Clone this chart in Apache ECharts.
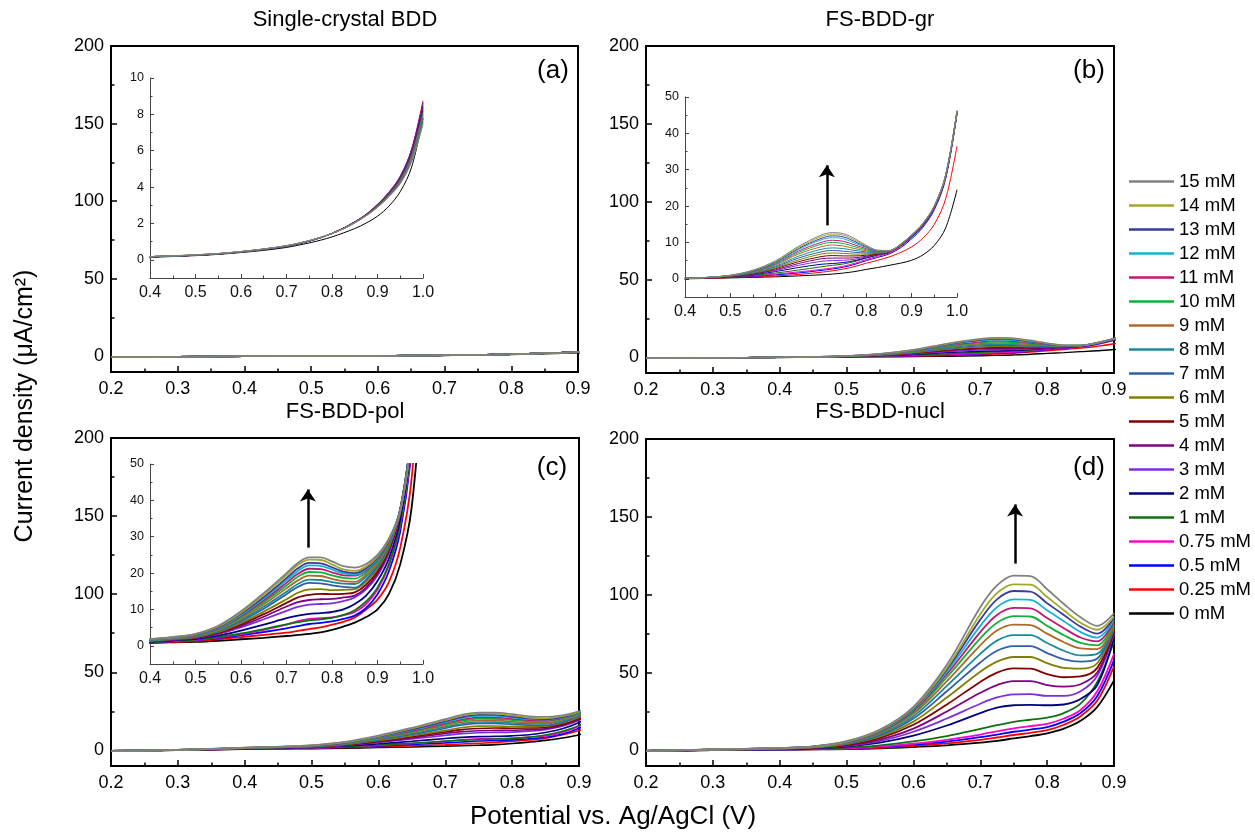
<!DOCTYPE html>
<html><head><meta charset="utf-8">
<script src="https://cdn.jsdelivr.net/npm/echarts@6/dist/echarts.min.js"></script>
<style>html,body{margin:0;padding:0;background:#fff}#c{width:1255px;height:832px}</style>
</head><body><div id="c"></div>
<script>
// ---------------- data ----------------
const potential = [0.2,0.3,0.4,0.45,0.5,0.55,0.6,0.65,0.7,0.725,0.75,0.775,0.8,0.825,0.85,0.875,0.9,0.925,0.95,0.975,1.0];
const potentialD = [0.2,0.3,0.4,0.45,0.5,0.55,0.6,0.65,0.7,0.725,0.75,0.775,0.8,0.825,0.85,0.875,0.9];
const concLabels = ['0 mM','0.25 mM','0.5 mM','0.75 mM','1 mM','2 mM','3 mM','4 mM','5 mM','6 mM','7 mM','8 mM','9 mM','10 mM','11 mM','12 mM','13 mM','14 mM','15 mM'];
const lineColors = ['#000000','#FF0000','#0000FF','#FF00CC','#107010','#000080','#7B2FE0','#800080','#800000','#7F7F00','#2F5FA8','#1A8A9A','#B0682A','#12B03A','#C0186E','#18B0DA','#3A3A9C','#A0A828','#808080'];
const panelTitles = ['Single-crystal BDD','FS-BDD-gr','FS-BDD-pol','FS-BDD-nucl'];
const panelLetters = ['(a)','(b)','(c)','(d)'];
const yMainTicks = [0,50,100,150,200];
const yMainMinor = [25,75,125,175];
const yInsetATicks = [0,2,4,6,8,10];
const yInsetAMinor = [1,3,5,7,9];
const yInsetTicks = [0,10,20,30,40,50];
const yInsetMinor = [5,15,25,35,45];
const arrowB = [0.713,14.7,31.2];
const arrowC = [0.747,27,43];
const arrowD = [0.752,120,158];

// (a) Single-crystal BDD, one row per concentration (0 mM ... 15 mM), x = potential
const currentA = [
 [-0.4,-0.2,0.12,0.18,0.23,0.30,0.40,0.52,0.68,0.80,0.93,1.08,1.26,1.48,1.72,2.02,2.40,2.95,3.75,5.10,7.80],
 [-0.4,-0.2,0.15,0.20,0.25,0.32,0.43,0.57,0.75,0.88,1.03,1.22,1.46,1.75,2.09,2.50,3.05,3.72,4.60,6.10,8.75],
 [-0.4,-0.2,0.15,0.20,0.25,0.32,0.43,0.57,0.75,0.88,1.03,1.22,1.46,1.75,2.09,2.50,3.04,3.70,4.58,6.05,8.65],
 [-0.4,-0.2,0.15,0.20,0.25,0.32,0.43,0.57,0.75,0.88,1.03,1.22,1.46,1.74,2.08,2.49,3.03,3.69,4.56,6.00,8.58],
 [-0.4,-0.2,0.15,0.20,0.25,0.32,0.43,0.57,0.75,0.88,1.03,1.22,1.45,1.74,2.08,2.49,3.02,3.68,4.54,5.96,8.50],
 [-0.4,-0.2,0.15,0.20,0.25,0.32,0.43,0.57,0.75,0.88,1.03,1.22,1.45,1.74,2.08,2.48,3.01,3.66,4.51,5.92,8.42],
 [-0.4,-0.2,0.15,0.20,0.25,0.32,0.43,0.57,0.75,0.88,1.03,1.22,1.45,1.73,2.07,2.48,3.00,3.65,4.49,5.88,8.35],
 [-0.4,-0.2,0.15,0.20,0.25,0.32,0.43,0.57,0.75,0.88,1.03,1.22,1.45,1.73,2.07,2.47,2.99,3.63,4.46,5.84,8.27],
 [-0.4,-0.2,0.15,0.20,0.26,0.33,0.44,0.58,0.76,0.89,1.04,1.23,1.45,1.73,2.07,2.47,2.98,3.62,4.44,5.80,8.20],
 [-0.4,-0.2,0.15,0.20,0.26,0.33,0.44,0.58,0.76,0.89,1.04,1.23,1.45,1.73,2.06,2.46,2.97,3.60,4.41,5.76,8.12],
 [-0.4,-0.2,0.15,0.20,0.26,0.33,0.44,0.58,0.76,0.89,1.04,1.23,1.45,1.72,2.06,2.46,2.96,3.59,4.39,5.72,8.05],
 [-0.4,-0.2,0.16,0.21,0.26,0.33,0.44,0.58,0.76,0.89,1.04,1.23,1.45,1.72,2.06,2.45,2.95,3.57,4.36,5.68,7.98],
 [-0.4,-0.2,0.16,0.21,0.26,0.33,0.44,0.58,0.76,0.89,1.04,1.23,1.45,1.72,2.05,2.45,2.94,3.56,4.34,5.64,7.90],
 [-0.4,-0.2,0.16,0.21,0.27,0.34,0.45,0.59,0.77,0.90,1.05,1.23,1.45,1.72,2.05,2.44,2.93,3.54,4.31,5.60,7.83],
 [-0.4,-0.2,0.16,0.21,0.27,0.34,0.45,0.59,0.77,0.90,1.05,1.23,1.45,1.71,2.05,2.44,2.92,3.53,4.29,5.56,7.75],
 [-0.4,-0.2,0.16,0.21,0.27,0.34,0.45,0.59,0.77,0.90,1.05,1.23,1.45,1.71,2.04,2.43,2.91,3.51,4.26,5.52,7.68],
 [-0.4,-0.2,0.17,0.22,0.27,0.34,0.45,0.59,0.77,0.90,1.05,1.24,1.45,1.71,2.04,2.43,2.90,3.50,4.24,5.48,7.60],
 [-0.4,-0.2,0.17,0.22,0.28,0.35,0.46,0.60,0.78,0.91,1.06,1.24,1.45,1.71,2.04,2.42,2.89,3.48,4.21,5.44,7.52],
 [-0.4,-0.2,0.17,0.22,0.28,0.35,0.46,0.60,0.78,0.91,1.06,1.24,1.45,1.70,2.03,2.42,2.88,3.47,4.19,5.40,7.45]
];

// (b) FS-BDD-gr
const currentB = [
 [-0.5,-0.3,0.0,0.1,0.25,0.4,0.55,0.8,1.1,1.3,1.6,2.0,2.6,3.1,3.7,4.3,5.1,6.6,9.2,14.0,24.5],
 [-0.5,-0.3,0.1,0.2,0.35,0.55,0.8,1.2,1.8,2.2,2.7,3.4,4.3,5.1,6.0,7.2,8.8,11.2,15.0,22.0,36.5],
 [-0.5,-0.3,0.1,0.25,0.45,0.7,1.1,1.6,2.3,2.7,3.2,4.0,5.0,5.9,6.8,8.5,11.0,14.2,19.0,27.5,45.3],
 [-0.5,-0.3,0.1,0.25,0.5,0.8,1.3,1.9,2.6,3.0,3.5,4.3,5.3,6.2,7.1,8.8,11.3,14.5,19.3,27.8,45.5],
 [-0.5,-0.3,0.1,0.3,0.55,0.95,1.6,2.4,3.3,3.7,4.1,4.8,5.7,6.5,7.3,9.0,11.5,14.7,19.5,28.0,45.6],
 [-0.5,-0.3,0.1,0.3,0.6,1.1,2.0,3.1,4.0,4.2,4.5,5.0,5.8,6.6,7.3,9.1,11.6,14.8,19.6,28.1,45.7],
 [-0.5,-0.3,0.1,0.3,0.65,1.2,2.3,3.7,4.8,5.0,5.1,5.4,6.0,6.7,7.4,9.1,11.7,14.9,19.7,28.2,45.8],
 [-0.5,-0.3,0.1,0.3,0.7,1.3,2.5,4.2,5.5,5.7,5.7,5.8,6.2,6.8,7.4,9.2,11.7,14.9,19.7,28.2,45.8],
 [-0.5,-0.3,0.1,0.3,0.7,1.4,2.8,4.7,6.1,6.4,6.3,6.3,6.5,6.9,7.5,9.2,11.8,15.0,19.8,28.3,45.9],
 [-0.5,-0.3,0.1,0.35,0.75,1.5,3.0,5.2,6.8,7.1,7.0,6.8,6.8,7.0,7.5,9.2,11.8,15.0,19.8,28.3,45.9],
 [-0.5,-0.3,0.1,0.35,0.8,1.6,3.3,5.7,7.4,7.8,7.6,7.3,7.1,7.1,7.6,9.3,11.8,15.0,19.8,28.3,45.9],
 [-0.5,-0.3,0.1,0.35,0.8,1.7,3.5,6.2,8.1,8.5,8.3,7.8,7.4,7.2,7.6,9.3,11.9,15.1,19.9,28.4,46.0],
 [-0.5,-0.3,0.1,0.35,0.85,1.8,3.8,6.8,8.8,9.3,9.0,8.3,7.7,7.3,7.6,9.3,11.9,15.1,19.9,28.4,46.0],
 [-0.5,-0.3,0.1,0.35,0.85,1.9,4.0,7.2,9.5,10.0,9.7,8.8,8.0,7.4,7.6,9.3,11.9,15.1,19.9,28.4,46.0],
 [-0.5,-0.3,0.1,0.4,0.9,2.0,4.2,7.6,10.0,10.6,10.3,9.3,8.3,7.5,7.6,9.4,12.0,15.2,20.0,28.5,46.1],
 [-0.5,-0.3,0.1,0.4,0.9,2.1,4.4,8.0,10.7,11.3,11.0,9.8,8.6,7.6,7.7,9.4,12.0,15.2,20.0,28.5,46.1],
 [-0.5,-0.3,0.1,0.4,0.95,2.2,4.6,8.3,11.1,11.8,11.5,10.2,8.8,7.7,7.7,9.4,12.0,15.2,20.0,28.5,46.2],
 [-0.5,-0.3,0.1,0.4,0.95,2.3,4.8,8.6,11.6,12.3,12.0,10.6,9.0,7.8,7.7,9.4,12.1,15.3,20.1,28.6,46.2],
 [-0.5,-0.3,0.1,0.4,1.0,2.4,5.0,8.9,12.0,12.7,12.4,11.0,9.2,7.9,7.8,9.5,12.1,15.3,20.1,28.6,46.3]
];

// (c) FS-BDD-pol
const currentC = [
 [-0.4,0.15,0.75,0.95,1.1,1.4,1.8,2.2,2.7,3.0,3.3,3.7,4.4,5.3,6.4,7.9,10.0,14.2,22.4,38,75],
 [-0.4,0.15,0.85,1.1,1.3,1.8,2.4,3.0,3.6,4.1,4.6,5.1,5.8,6.6,7.8,10.0,12.7,17.5,27,46,90],
 [-0.35,0.2,0.95,1.25,1.5,2.1,2.9,3.8,4.8,5.4,6.0,6.3,6.7,7.4,8.3,10.4,14.2,20.5,31.5,54,100],
 [-0.35,0.2,1.0,1.3,1.6,2.3,3.2,4.4,5.8,6.8,7.4,7.6,7.8,8.4,9.3,11.5,15.5,22,33,55,100],
 [-0.35,0.2,1.0,1.35,1.7,2.4,3.4,4.6,5.9,6.5,7.0,7.3,7.7,8.5,9.8,12.2,16,22.5,33.5,56,100],
 [-0.35,0.2,1.1,1.5,1.9,2.8,4.2,5.8,7.6,8.3,8.8,9.0,9.3,10.0,11.5,13.8,17.8,24,35,57,100],
 [-0.3,0.25,1.2,1.65,2.1,3.2,5.1,7.3,9.6,10.7,11.3,11.5,11.7,12.3,13.3,15.5,19.3,25.5,36.5,58,100],
 [-0.3,0.25,1.25,1.7,2.2,3.4,5.5,8.0,10.8,12.0,12.6,12.8,12.9,13.3,13.8,16.0,19.8,26,36.5,58,100],
 [-0.3,0.25,1.3,1.8,2.3,3.6,5.9,8.7,11.8,13.3,14.0,14.3,14.2,14.3,14.7,16.8,20.5,26.5,37,59,100],
 [-0.3,0.25,1.35,1.85,2.4,3.8,6.3,9.4,12.8,14.6,15.5,15.6,15.3,15.4,15.6,17.6,21.2,27,37,59,100],
 [-0.3,0.3,1.4,1.9,2.5,4.0,6.8,10.2,14.2,16.2,17.3,17.2,16.6,16.2,16.0,18.2,21.8,27.5,37.5,59,100],
 [-0.3,0.3,1.45,2.0,2.6,4.2,7.1,10.8,14.9,17.0,18.2,18.1,17.5,17.1,17.0,19.0,22.3,27.8,37.5,59,100],
 [-0.3,0.3,1.5,2.05,2.7,4.4,7.5,11.4,15.8,18.0,19.3,19.2,18.4,17.8,17.6,19.6,22.8,28.2,37.5,59,100],
 [-0.3,0.3,1.55,2.1,2.8,4.6,7.9,12.0,16.6,19.0,20.3,20.2,19.4,18.7,18.5,20.2,23.3,28.5,37.5,59,100],
 [-0.3,0.3,1.6,2.2,2.9,4.8,8.2,12.5,17.3,19.8,21.2,21.1,20.2,19.4,19.3,20.7,23.7,28.7,37.5,59,100],
 [-0.3,0.3,1.65,2.25,3.0,5.0,8.5,13.0,18.0,20.6,22.1,22.0,21.0,19.9,19.6,21.0,24.0,29.0,37.5,59,100],
 [-0.3,0.3,1.7,2.3,3.1,5.1,8.8,13.4,18.6,21.3,22.8,22.7,21.6,20.4,20.0,21.3,24.3,29.0,37.5,59,100],
 [-0.3,0.3,1.75,2.35,3.2,5.3,9.1,14.0,19.4,22.2,23.7,23.6,22.4,21.0,20.6,21.8,24.6,29.2,37,58,100],
 [-0.3,0.3,1.8,2.4,3.3,5.5,9.5,14.5,20.0,22.8,24.3,24.3,23.2,21.9,21.5,22.5,25.0,29.5,37,58,100]
];

// (d) FS-BDD-nucl, x = potentialD
const currentD = [
 [-0.3,0.2,0.5,0.65,0.8,1.3,2.2,3.3,5.0,6.2,7.7,9.2,11.0,14.0,19.0,28.0,45.0],
 [-0.3,0.2,0.55,0.75,1.0,1.7,2.9,4.5,6.8,8.3,9.9,11.3,13.0,16.5,22.0,32.0,54.0],
 [-0.3,0.2,0.6,0.85,1.2,2.1,3.6,5.6,8.5,10.2,12.0,13.4,15.0,18.5,24.0,35.0,58.0],
 [-0.3,0.25,0.65,0.95,1.4,2.5,4.3,6.8,10.2,12.3,14.2,15.6,17.0,20.5,26.0,38.0,62.0],
 [-0.3,0.3,0.75,1.1,1.8,3.3,5.8,9.2,13.8,16.2,18.4,19.7,21.0,24.0,30.0,44.0,70.0],
 [-0.3,0.35,0.9,1.4,2.5,5.0,9.5,16.0,24.0,27.5,29.0,29.3,29.0,29.5,33.0,42.0,73.0],
 [-0.3,0.4,1.0,1.6,2.9,6.0,12.0,20.5,30.0,34.0,36.0,36.2,35.0,35.0,38.0,48.0,75.0],
 [-0.3,0.4,1.05,1.7,3.2,7.0,14.0,25.0,37.0,42.0,44.5,44.5,42.0,41.0,42.5,50.0,76.0],
 [-0.3,0.45,1.1,1.8,3.6,8.0,16.5,29.5,44.0,50.0,52.7,52.5,49.0,47.0,47.5,53.0,77.0],
 [-0.3,0.45,1.15,1.9,4.0,9.0,18.5,34.0,50.5,57.0,60.0,60.0,56.0,53.0,52.5,56.0,78.0],
 [-0.3,0.5,1.2,2.0,4.3,9.8,20.5,38.0,56.5,64.0,67.0,67.0,62.5,58.5,57.0,59.0,79.0],
 [-0.3,0.5,1.25,2.1,4.6,10.5,22.0,41.5,62.0,70.5,74.0,74.0,69.0,64.0,61.0,62.0,80.0],
 [-0.3,0.5,1.3,2.2,4.9,11.2,23.5,44.5,67.5,77.0,80.8,80.5,75.0,69.5,65.5,65.0,81.0],
 [-0.3,0.55,1.35,2.3,5.1,11.7,24.5,47.0,72.0,82.0,86.3,86.0,80.0,74.0,69.0,67.5,82.0],
 [-0.3,0.55,1.4,2.35,5.3,12.1,25.5,49.0,76.0,87.0,91.5,91.2,85.0,78.5,72.5,70.0,83.0],
 [-0.3,0.55,1.45,2.4,5.5,12.5,26.2,50.5,80.0,92.0,97.0,96.7,90.0,83.0,76.0,72.5,84.0],
 [-0.3,0.6,1.5,2.45,5.6,12.8,26.8,52.0,84.0,97.0,102.4,102.0,94.5,87.0,79.5,75.0,85.0],
 [-0.3,0.6,1.5,2.5,5.7,13.0,27.3,53.0,87.5,101.0,106.7,106.5,98.5,90.0,82.0,77.5,86.0],
 [-0.3,0.6,1.55,2.55,5.9,13.4,28.0,55.0,92.0,106.0,112.3,112.0,103.5,94.0,85.5,80.0,88.0]
];

// ---------------- layout ----------------
const FONT = '"Liberation Sans", Arial, sans-serif';
const mainGrids = [
  {left:111, top:46, width:467, height:326},
  {left:646, top:46, width:468, height:327},
  {left:111, top:438, width:468, height:328},
  {left:646, top:439, width:468, height:327}
];
const insetGrids = [
  {left:150, top:78, width:273, height:200},
  {left:685, top:97, width:272, height:200},
  {left:150, top:464, width:273, height:200}
];
const grid = mainGrids.map(g => Object.assign({show:true, borderColor:'#000', borderWidth:2, backgroundColor:'transparent'}, g))
  .concat(insetGrids.map(g => Object.assign({show:false}, g)));

const fmt1 = v => Number(v).toFixed(1);
const xAxis = [];
const yAxis = [];
for (let i = 0; i < 4; i++) {
  xAxis.push({type:'value', gridIndex:i, min:0.2, max:0.9, interval:0.1,
    axisLine:{show:true, onZero:false, lineStyle:{color:'#000', width:2}},
    axisTick:{show:true, inside:true, length:6, lineStyle:{color:'#000', width:1.5}},
    minorTick:{show:true, splitNumber:2, length:3.5, lineStyle:{color:'#000', width:1.5}},
    axisLabel:{fontSize:18, color:'#000', fontFamily:FONT, margin:8, formatter:fmt1, showMinLabel:true, showMaxLabel:true},
    splitLine:{show:false}});
}
for (let i = 0; i < 3; i++) {
  xAxis.push({type:'value', gridIndex:4+i, min:0.4, max:1.0, interval:0.1,
    axisLine:{show:true, onZero:false, lineStyle:{color:'#444', width:1}},
    axisTick:{show:true, inside:true, length:4, lineStyle:{color:'#444', width:1}},
    minorTick:{show:true, splitNumber:2, length:2.5, lineStyle:{color:'#444', width:1}},
    axisLabel:{fontSize:16, color:'#111', fontFamily:FONT, margin:7, formatter:fmt1, showMinLabel:true, showMaxLabel:true},
    splitLine:{show:false}});
}
// main y axes (major), indices 0..3
for (let i = 0; i < 4; i++) {
  yAxis.push({type:'value', gridIndex:i, min:-10, max:200, position:'left',
    axisLine:{show:true, onZero:false, lineStyle:{color:'#000', width:2}},
    axisTick:{show:true, inside:true, length:6, customValues:yMainTicks, lineStyle:{color:'#000', width:1.5}},
    axisLabel:{customValues:yMainTicks, fontSize:18, color:'#000', fontFamily:FONT, margin:7},
    splitLine:{show:false}});
}
// main y minor ticks, indices 4..7
for (let i = 0; i < 4; i++) {
  yAxis.push({type:'value', gridIndex:i, min:-10, max:200, position:'left', offset:0,
    axisLine:{show:false, onZero:false},
    axisTick:{show:true, inside:true, length:3.5, customValues:yMainMinor, lineStyle:{color:'#000', width:1.5}},
    axisLabel:{show:false}, splitLine:{show:false}});
}
// inset y (major) indices 8..10
const insetYRange = [[-1,10,yInsetATicks,yInsetAMinor],[-5,50,yInsetTicks,yInsetMinor],[-5,50,yInsetTicks,yInsetMinor]];
for (let i = 0; i < 3; i++) {
  const r = insetYRange[i];
  yAxis.push({type:'value', gridIndex:4+i, min:r[0], max:r[1], position:'left',
    axisLine:{show:true, onZero:false, lineStyle:{color:'#444', width:1}},
    axisTick:{show:true, inside:true, length:4, customValues:r[2], lineStyle:{color:'#444', width:1}},
    axisLabel:{customValues:r[2], fontSize:12.5, color:'#111', fontFamily:FONT, margin:6},
    splitLine:{show:false}});
}
// inset y minor indices 11..13
for (let i = 0; i < 3; i++) {
  const r = insetYRange[i];
  yAxis.push({type:'value', gridIndex:4+i, min:r[0], max:r[1], position:'left', offset:0,
    axisLine:{show:false, onZero:false},
    axisTick:{show:true, inside:true, length:2.5, customValues:r[3], lineStyle:{color:'#444', width:1}},
    axisLabel:{show:false}, splitLine:{show:false}});
}

const series = [];
function addPanel(xs, data, xi, yi, width, arrow) {
  data.forEach((vals, j) => {
    const s = {type:'line', name:concLabels[j], xAxisIndex:xi, yAxisIndex:yi,
      data: xs.map((x, k) => [x, vals[k]]),
      smooth:0.35, symbol:'none', showSymbol:false, clip:true, silent:true,
      lineStyle:{color:lineColors[j], width:width}, itemStyle:{color:lineColors[j]},
      emphasis:{disabled:true}, z:2};
    if (arrow && j === data.length - 1) {
      s.markLine = {silent:true, symbol:['none','arrow'], symbolSize:12, animation:false,
        lineStyle:{color:'#000', width:2.5, type:'solid'}, label:{show:false}, emphasis:{disabled:true},
        data:[[{coord:[arrow[0], arrow[1]]}, {coord:[arrow[0], arrow[2]]}]]};
    }
    series.push(s);
  });
}
addPanel(potential, currentA, 0, 0, 1.5, null);
addPanel(potential, currentB, 1, 1, 1.4, null);
addPanel(potential, currentC, 2, 2, 1.6, null);
addPanel(potentialD, currentD, 3, 3, 1.8, arrowD);
addPanel(potential, currentA, 4, 8, 1.0, null);
addPanel(potential, currentB, 5, 9, 1.0, arrowB);
addPanel(potential, currentC, 6, 10, 1.8, arrowC);

const titlePos = [[345,20],[880,20],[345,412],[880,412]];
const letterPos = [[553,71],[1089,71],[552,468],[1089,468]];
const graphic = [];
panelTitles.forEach((t, i) => graphic.push({type:'text', x:titlePos[i][0], y:titlePos[i][1],
  style:{text:t, font:'22px ' + FONT, fill:'#000', align:'center', verticalAlign:'middle'}}));
panelLetters.forEach((t, i) => graphic.push({type:'text', x:letterPos[i][0], y:letterPos[i][1],
  style:{text:t, font:'26px ' + FONT, fill:'#000', align:'center', verticalAlign:'middle'}}));
graphic.push({type:'text', x:613, y:817, style:{text:'Potential vs. Ag/AgCl (V)', font:'26px ' + FONT, fill:'#000', align:'center', verticalAlign:'middle'}});
graphic.push({type:'text', x:25, y:406, rotation:Math.PI/2, style:{text:'Current density (\u03BCA/cm\u00B2)', font:'25px ' + FONT, fill:'#000', align:'center', verticalAlign:'middle'}});

const chart = echarts.init(document.getElementById('c'), null, {renderer:'canvas'});
chart.setOption({
  animation:false,
  backgroundColor:'#fff',
  textStyle:{fontFamily:FONT},
  grid, xAxis, yAxis, series, graphic,
  legend:{orient:'vertical', left:1129, top:172, padding:0, icon:'rect', itemWidth:45, itemHeight:2.5, itemGap:5, selectedMode:false,
    data:concLabels.slice().reverse(),
    textStyle:{fontSize:18.5, color:'#000', fontFamily:FONT}}
});
</script></body></html>
